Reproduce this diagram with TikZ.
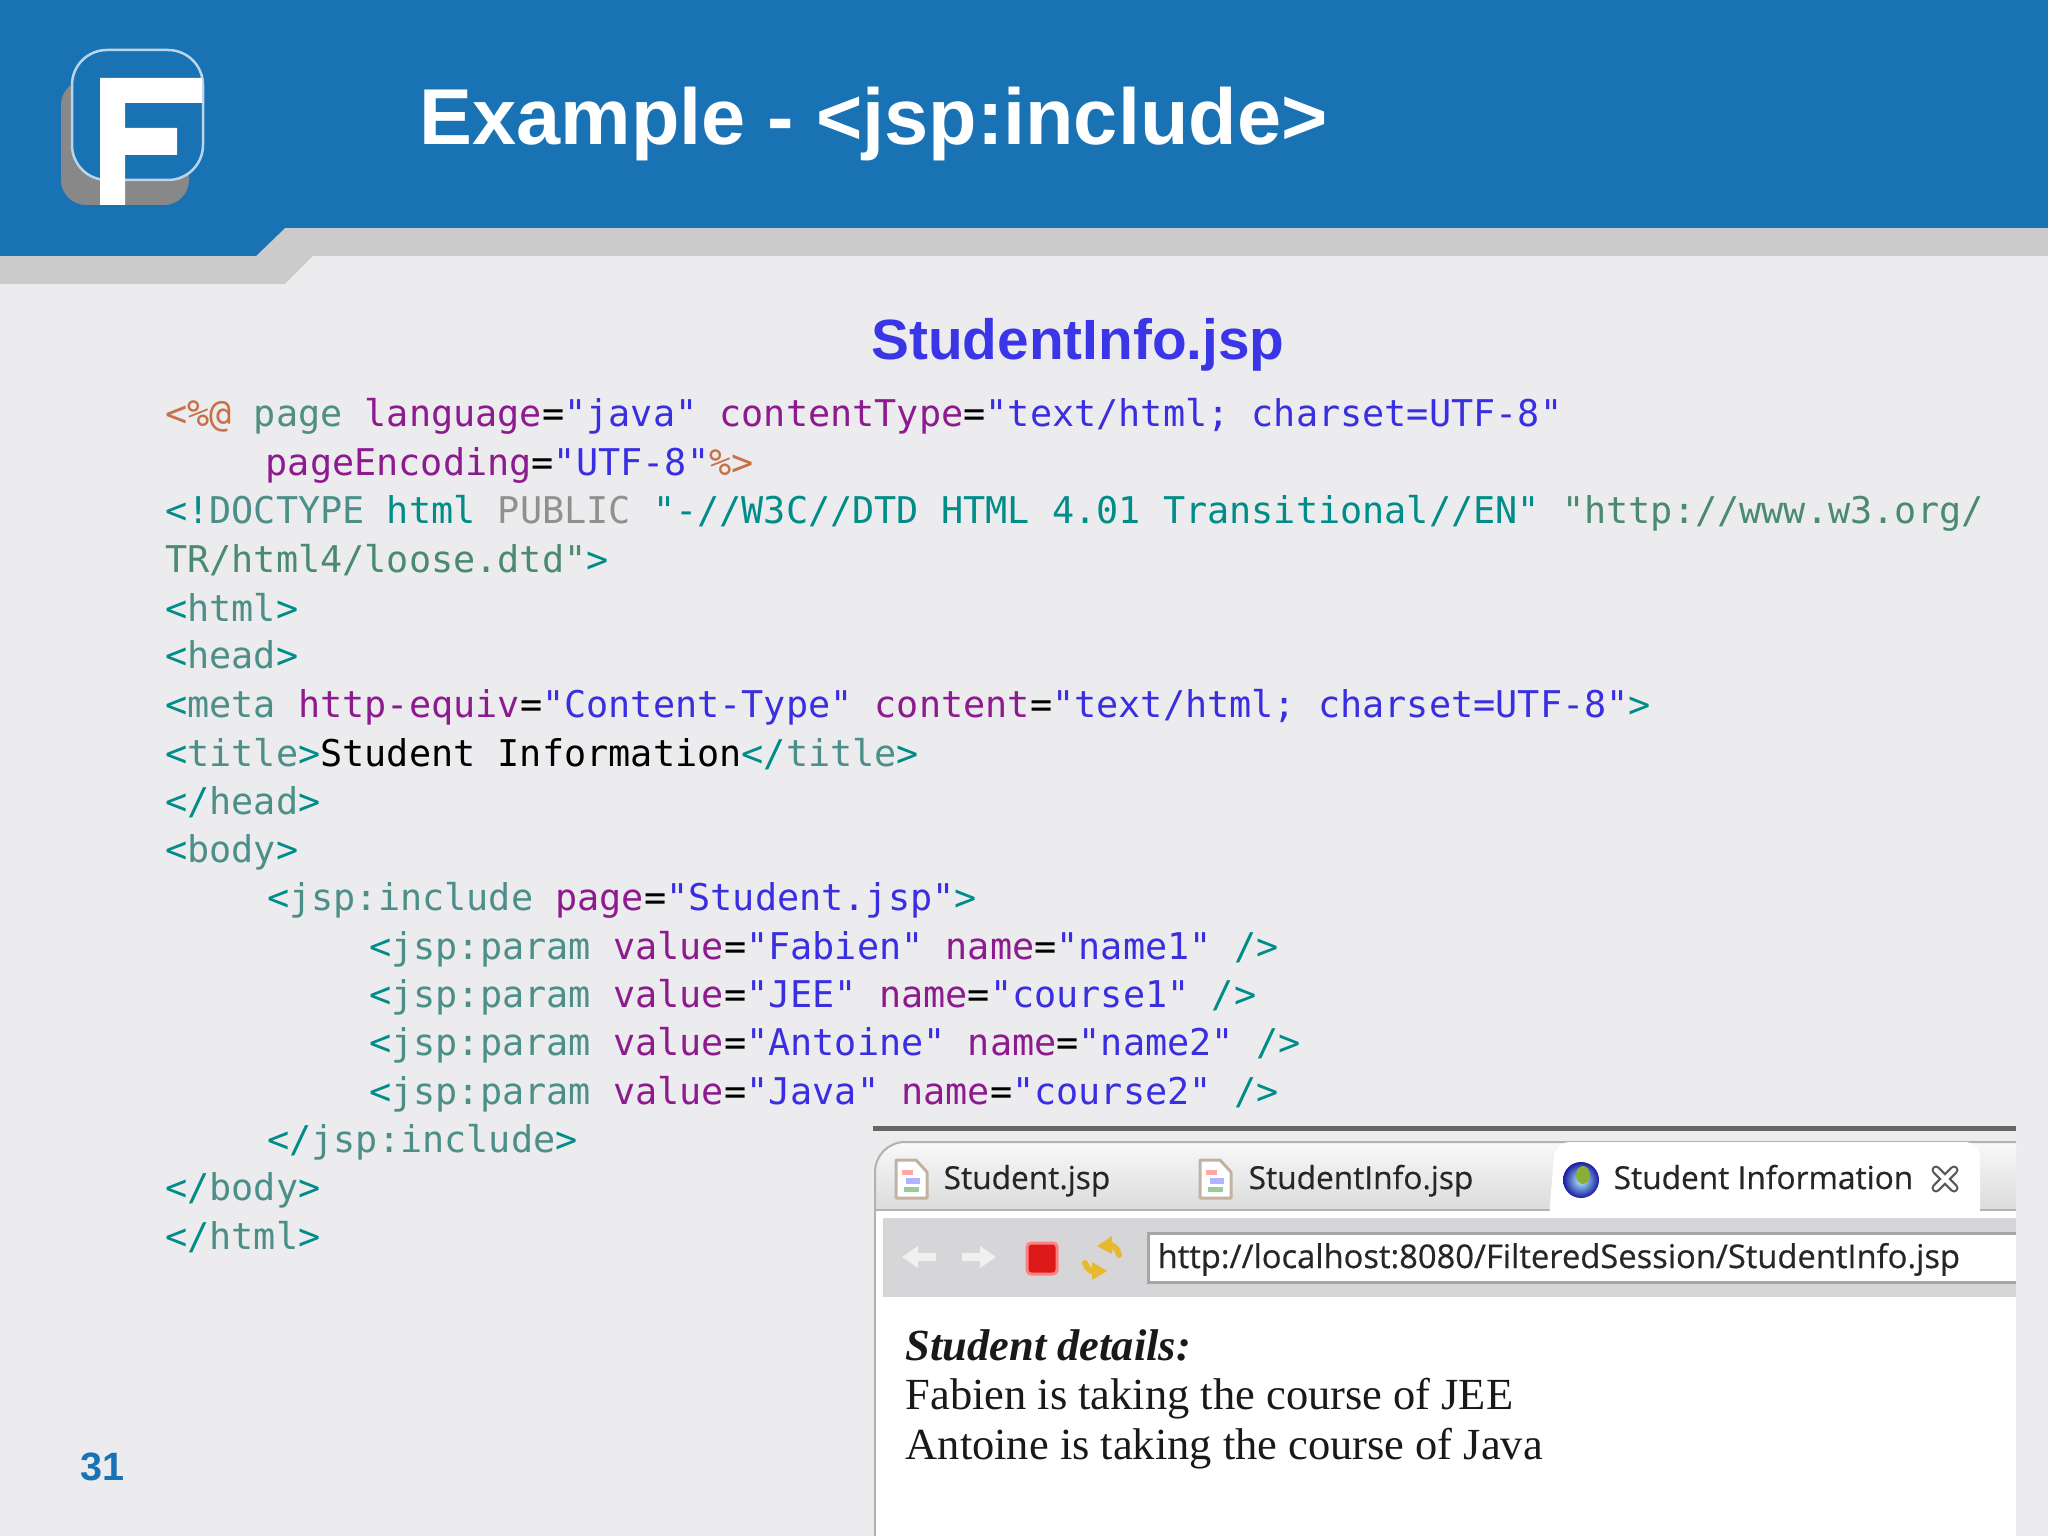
\documentclass[tikz,border=0pt]{standalone}
\usepackage{fontspec}
\setmainfont{Liberation Sans}
\setmonofont{DejaVu Sans Mono}
\newfontfamily\pagefont{Liberation Serif}
\newfontfamily\uifont[FakeBold=0.5]{Open Sans}

\definecolor{headblue}{HTML}{1872B4}
\definecolor{slidegray}{HTML}{ECECEE}
\definecolor{bandgray}{HTML}{CBCBCB}
\definecolor{logogray}{HTML}{888888}
\definecolor{filename}{HTML}{3A36E8}
\definecolor{tagteal}{HTML}{008C88}
\definecolor{tagname}{HTML}{4B8F88}
\definecolor{directive}{HTML}{C8704A}
\definecolor{pageword}{HTML}{4F8F80}
\definecolor{attrib}{HTML}{8E1A90}
\definecolor{strblue}{HTML}{3A2FE0}
\definecolor{greyword}{HTML}{909090}
\definecolor{greenstr}{HTML}{4A8A70}
\definecolor{toolgray}{HTML}{D6D6D8}
\definecolor{goldarrow}{HTML}{E8B830}

\newcommand{\tg}[1]{\textcolor{tagteal}{#1}}
\newcommand{\nm}[1]{\textcolor{tagname}{#1}}
\newcommand{\at}[1]{\textcolor{attrib}{#1}}
\newcommand{\str}[1]{\textcolor{strblue}{#1}}
\newcommand{\dr}[1]{\textcolor{directive}{#1}}

% icono de archivo con sus tres marcas de color
\newcommand{\docicon}[1]{
    \begin{scope}[shift={(#1,11.6)}]
        \draw[draw=brown!45!gray!60, fill=white, line width=0.3mm, line join=round]
            (0,0) -- (0.2,0) -- (0.31,0.12) -- (0.31,0.38) -- (0,0.38) -- cycle;
        \fill[red!35] (0.06,0.1) rectangle (0.17,0.15);
        \fill[blue!30] (0.1,0.18) rectangle (0.24,0.24);
        \fill[green!50!black!40] (0.08,0.27) rectangle (0.23,0.32);
    \end{scope}
}

\tikzset{
    codeline/.style={anchor=base west, inner sep=0pt, font=\ttfamily\fontsize{10.48}{12}\selectfont},
    tabtext/.style={anchor=base west, inner sep=0pt, text=black!85, font=\uifont\fontsize{9}{11}\selectfont},
    pagetext/.style={anchor=base west, inner sep=0pt, text=black!90, font=\pagefont\fontsize{12.65}{15}\selectfont},
    backarrow/.style={white!88!gray},
    reload/.style={goldarrow, line width=0.6mm, line cap=round},
}

\begin{document}
\begin{tikzpicture}[y=-1cm]
    \useasboundingbox (0,0) rectangle (20.48,15.36);
    \fill[slidegray] (0,0) rectangle (20.48,15.36);

    % ~~~~ Cabecera ~~~~ %
    \fill[bandgray] (0,2.5) -- (2.56,2.5) -- (2.85,2.2) -- (20.48,2.2) -- (20.48,2.56)
        -- (3.13,2.56) -- (2.85,2.84) -- (0,2.84) -- cycle;
    \fill[headblue] (0,0) -- (20.48,0) -- (20.48,2.28) -- (2.85,2.28) -- (2.56,2.56) -- (0,2.56) -- cycle;
    \node[anchor=base west, inner sep=0pt, text=white, font=\bfseries\fontsize{22.56}{26}\selectfont]
        (title) at (4.19,1.45) {Example - <jsp:include>};

    % ~~~~ Logo ~~~~ %
    \fill[logogray, rounded corners=2.5mm] (0.61,0.8) rectangle (1.89,2.05);
    \fill[headblue, rounded corners=3.5mm] (0.72,0.5) rectangle (2.03,1.8);
    \draw[white!70!headblue, line width=0.25mm, rounded corners=3.5mm] (0.72,0.5) rectangle (2.03,1.8);
    \fill[white] (1.0,0.78) -- (2.02,0.78) -- (2.02,1.03) -- (1.25,1.03) -- (1.25,1.28) -- (1.77,1.28)
        -- (1.77,1.55) -- (1.25,1.55) -- (1.25,2.05) -- (1.0,2.05) -- cycle;

    % ~~~~ Titulo del archivo ~~~~ %
    \node[anchor=base, inner sep=0pt, text=filename, font=\bfseries\fontsize{16.15}{19}\selectfont]
        (fname) at (10.78,3.6) {StudentInfo.jsp};

    % ~~~~ Codigo ~~~~ %
    \node[codeline] (l1) at (1.645,4.27) {\dr{<\%@} \textcolor{pageword}{page} \at{language}=\str{"java"} \at{contentType}=\str{"text/html; charset=UTF-8"}};
    \node[codeline] (l2) at (2.65,4.755) {\at{pageEncoding}=\str{"UTF-8"}\dr{\%>}};
    \node[codeline] (l3) at (1.645,5.24) {\tg{<!}\nm{DOCTYPE} \tg{html} \textcolor{greyword}{PUBLIC} \tg{"-//W3C//DTD HTML 4.01 Transitional//EN"} \textcolor{greenstr}{"http://www.w3.org/}};
    \node[codeline] (l4) at (1.645,5.725) {\textcolor{greenstr}{TR/html4/loose.dtd"}\tg{>}};
    \node[codeline] (l5) at (1.645,6.21) {\tg{<}\nm{html}\tg{>}};
    \node[codeline] (l6) at (1.645,6.69) {\tg{<}\nm{head}\tg{>}};
    \node[codeline] (l7) at (1.645,7.175) {\tg{<}\nm{meta} \at{http-equiv}=\str{"Content-Type"} \at{content}=\str{"text/html; charset=UTF-8"}\tg{>}};
    \node[codeline] (l8) at (1.645,7.66) {\tg{<}\nm{title}\tg{>}Student Information\tg{</}\nm{title}\tg{>}};
    \node[codeline] (l9) at (1.645,8.14) {\tg{</}\nm{head}\tg{>}};
    \node[codeline] (l10) at (1.645,8.625) {\tg{<}\nm{body}\tg{>}};
    \node[codeline] (l11) at (2.665,9.105) {\tg{<}\nm{jsp:include} \at{page}=\str{"Student.jsp"}\tg{>}};
    \node[codeline] (l12) at (3.685,9.59) {\tg{<}\nm{jsp:param} \at{value}=\str{"Fabien"} \at{name}=\str{"name1"} \tg{/>}};
    \node[codeline] (l13) at (3.685,10.075) {\tg{<}\nm{jsp:param} \at{value}=\str{"JEE"} \at{name}=\str{"course1"} \tg{/>}};
    \node[codeline] (l14) at (3.685,10.555) {\tg{<}\nm{jsp:param} \at{value}=\str{"Antoine"} \at{name}=\str{"name2"} \tg{/>}};
    \node[codeline] (l15) at (3.685,11.04) {\tg{<}\nm{jsp:param} \at{value}=\str{"Java"} \at{name}=\str{"course2"} \tg{/>}};
    \node[codeline] (l16) at (2.665,11.525) {\tg{</}\nm{jsp:include}\tg{>}};
    \node[codeline] (l17) at (1.645,12.005) {\tg{</}\nm{body}\tg{>}};
    \node[codeline] (l18) at (1.645,12.49) {\tg{</}\nm{html}\tg{>}};

    % ~~~~ Navegador ~~~~ %
    \fill[white] (8.75,12.1) rectangle (20.16,15.36);
    \draw[gray!60, line width=0.2mm] (8.75,12.1) -- (8.75,15.36);
    \fill[black!60] (8.73,11.26) rectangle (20.16,11.31);
    \shade[top color=white!95!gray, bottom color=black!14] (8.75,12.1) [rounded corners=3mm] -- (8.75,11.42)
        [sharp corners] -- (20.16,11.42) -- (20.16,12.1) -- cycle;
    \draw[gray!60, line width=0.2mm] (8.75,12.1) [rounded corners=3mm] -- (8.75,11.42) [sharp corners] -- (20.16,11.42);
    \draw[gray!60, line width=0.2mm] (8.75,12.1) -- (20.16,12.1);
    \fill[white] (15.49,12.18) [rounded corners=1.5mm] -- (15.55,11.42) -- (19.8,11.42) [sharp corners]
        -- (19.8,12.18) -- cycle;
    \fill[toolgray] (8.83,12.18) rectangle (20.16,12.97);
    \fill[white] (11.48,12.33) rectangle (20.16,12.82);
    \draw[gray!70, line width=0.3mm] (20.16,12.33) -- (11.48,12.33) -- (11.48,12.82) -- (20.16,12.82);

    \node[tabtext] (tab1) at (9.43,11.89) {Student.jsp};
    \node[tabtext] (tab2) at (12.48,11.89) {StudentInfo.jsp};
    \node[tabtext] (tab3) at (16.13,11.89) {Student Information};
    \node[tabtext, font=\uifont\fontsize{9.3}{11}\selectfont] (url) at (11.57,12.68) {http://localhost:8080/FilteredSession/StudentInfo.jsp};

    % iconos
    \docicon{8.96}
    \docicon{12.0}
    \shade[inner color=cyan!30!white, outer color=blue!60!black!90] (15.81,11.8) circle (0.18);
    \fill[olive!60!green!80] (15.83,11.75) ellipse (0.07 and 0.09);
    \draw[black!65, line width=0.9mm, line cap=round] (19.36,11.7) -- (19.54,11.88) (19.36,11.88) -- (19.54,11.7);
    \draw[white, line width=0.45mm, line cap=round] (19.36,11.7) -- (19.54,11.88) (19.36,11.88) -- (19.54,11.7);
    \fill[backarrow] (9.02,12.57) -- (9.18,12.46) -- (9.18,12.53) -- (9.36,12.53) -- (9.36,12.61) -- (9.18,12.61) -- (9.18,12.68) -- cycle;
    \fill[backarrow] (9.96,12.57) -- (9.8,12.46) -- (9.8,12.53) -- (9.62,12.53) -- (9.62,12.61) -- (9.8,12.61) -- (9.8,12.68) -- cycle;
    \draw[red!50!white, fill=red!85!black!90, line width=0.3mm, rounded corners=0.4mm] (10.27,12.43) rectangle (10.57,12.74);
    \draw[reload] (11.19,12.55) to [bend right=40] (11.06,12.44);
    \fill[goldarrow] (11.12,12.36) -- (10.97,12.46) -- (11.12,12.54) -- cycle;
    \draw[reload] (10.85,12.63) to [bend right=40] (10.98,12.72);
    \fill[goldarrow] (10.92,12.62) -- (11.07,12.71) -- (10.92,12.8) -- cycle;

    % ~~~~ Pagina ~~~~ %
    \node[pagetext, font=\pagefont\bfseries\itshape\fontsize{12.65}{15}\selectfont] (details) at (9.05,13.6) {Student details:};
    \node[pagetext] (fabien) at (9.05,14.09) {Fabien is taking the course of JEE};
    \node[pagetext] (antoine) at (9.05,14.59) {Antoine is taking the course of Java};

    \node[anchor=base west, inner sep=0pt, text=headblue, font=\bfseries\fontsize{11.25}{13}\selectfont]
        (pagenum) at (0.8,14.8) {31};
\end{tikzpicture}
\end{document}
